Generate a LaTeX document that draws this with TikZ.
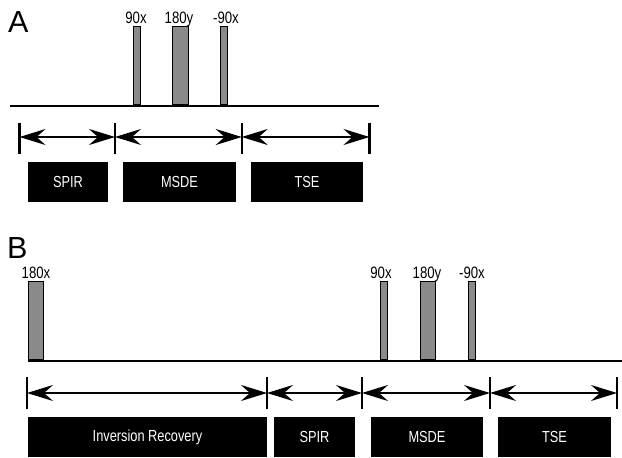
\documentclass[tikz,border=0pt]{standalone}
\usepackage{fontspec}
\setmainfont{Liberation Sans}
\newfontfamily\narrowsans[FakeStretch=0.8]{Liberation Sans}
\usetikzlibrary{arrows.meta}
\definecolor{pulsegray}{HTML}{8A8A8A}
\begin{document}
\begin{tikzpicture}[x=1pt,y=-1pt,
  seqbox/.style={fill=black, text=white, inner sep=0pt,
    font=\narrowsans\fontsize{16}{18}\selectfont},
  pulse/.style={draw=black, fill=pulsegray, line width=0.9pt, inner sep=0pt,
    anchor=south, minimum height=78pt},
  pulselabel/.style={font=\narrowsans\fontsize{16.5}{18}\selectfont, inner sep=0pt, anchor=base},
  panel/.style={font=\fontsize{30.5}{32}\selectfont, inner sep=0pt, anchor=base west},
  axis/.style={line width=2.6pt},
  tick/.style={line width=2.2pt},
  span/.style={line width=2.2pt,
    {Stealth[length=26pt,width=16pt,inset=9pt]}-{Stealth[length=26pt,width=16pt,inset=9pt]}}]
\useasboundingbox (0,0) rectangle (622,458);

% ---------- Panel A ----------
\node[panel] (labA) at (8,32) {A};
\coordinate (a0) at (10,106);
\coordinate (a1) at (379,106);
\draw[axis] (a0) -- (a1);

\node[pulse, minimum width=7pt] (pa1) at (136.5,105) {};
\node[pulse, minimum width=16pt] (pa2) at (180,105) {};
\node[pulse, minimum width=7pt] (pa3) at (224,105) {};
\node[pulselabel] (la1) at (136,23) {90x};
\node[pulselabel] (la2) at (179,23) {180y};
\node[pulselabel] (la3) at (226,23) {-90x};

\foreach \n/\x in {1/19.5,2/115,3/241.7,4/369.5}{
  \coordinate (at\n) at (\x,137);
  \draw[tick] (\x,122.5) -- (\x,153.5);
}
\draw[span] (at1) -- (at2);
\draw[span] (at2) -- (at3);
\draw[span] (at3) -- (at4);

\node[seqbox, minimum width=80pt, minimum height=40pt] (sA1) at (68,182) {SPIR};
\node[seqbox, minimum width=113pt, minimum height=40pt] (sA2) at (179.5,182) {MSDE};
\node[seqbox, minimum width=112pt, minimum height=40pt] (sA3) at (307,182) {TSE};

% ---------- Panel B ----------
\node[panel] (labB) at (7,258) {B};
\coordinate (b0) at (28,361);
\coordinate (b1) at (622,361);
\draw[axis] (b0) -- (b1);

\node[pulse, minimum width=15pt] (pb0) at (35.5,360) {};
\node[pulselabel] (lb0) at (36,278) {180x};

\node[pulse, minimum width=7pt] (pb1) at (383.5,360) {};
\node[pulse, minimum width=15pt] (pb2) at (427.5,360) {};
\node[pulse, minimum width=7pt] (pb3) at (471.5,360) {};
\node[pulselabel] (lb1) at (381,278) {90x};
\node[pulselabel] (lb2) at (427,278) {180y};
\node[pulselabel] (lb3) at (472,278) {-90x};

\foreach \n/\x in {1/27,2/267,3/362,4/490,5/617}{
  \coordinate (bt\n) at (\x,393);
  \draw[tick] (\x,377) -- (\x,409);
}
\draw[span] (bt1) -- (bt2);
\draw[span] (bt2) -- (bt3);
\draw[span] (bt3) -- (bt4);
\draw[span] (bt4) -- (bt5);

\node[seqbox, minimum width=239pt, minimum height=40pt] (sB1) at (147.5,437) {Inversion Recovery};
\node[seqbox, minimum width=81pt, minimum height=40pt] (sB2) at (314.5,437) {SPIR};
\node[seqbox, minimum width=112pt, minimum height=40pt] (sB3) at (427,437) {MSDE};
\node[seqbox, minimum width=113pt, minimum height=40pt] (sB4) at (554.5,437) {TSE};
\end{tikzpicture}
\end{document}
